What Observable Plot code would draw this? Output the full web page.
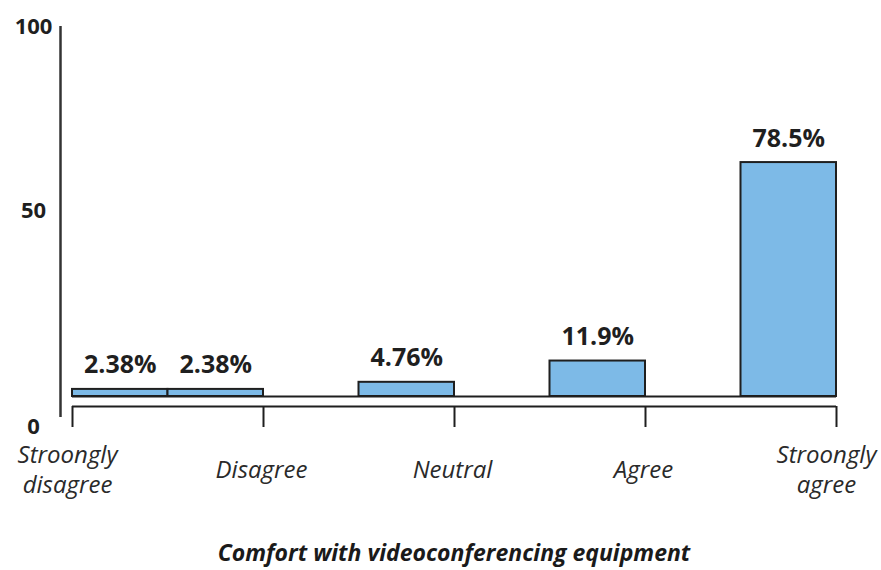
<!DOCTYPE html>
<html>
<head>
<meta charset="utf-8">
<script src="https://cdn.jsdelivr.net/npm/d3@7"></script>
<script src="https://cdn.jsdelivr.net/npm/@observablehq/plot@0.6"></script>
<style>
  html, body { margin: 0; padding: 0; background: white; }
  #wrap { position: relative; width: 881px; height: 570px; font-family: 'Open Sans', sans-serif; }
  #wrap svg { position: absolute; left: 0; top: 0; }
  #title { position: absolute; left: 72px; width: 764px; top: 535px; text-align: center; line-height: 34px;
           font-size: 23px; font-weight: bold; font-style: italic; color: #1a1a1a; white-space: nowrap; }
</style>
</head>
<body>
<div id="wrap"></div>
<script>
const categories = ["Stroongly\ndisagree", "Disagree", "Neutral", "Agree", "Stroongly\nagree"];
const values = [2.38, 2.38, 4.76, 11.9, 78.5];
const yTicks = [0, 50, 100];
const title = "Comfort with videoconferencing equipment";

const rows = categories.map((c, i) => ({
  i, cat: c, value: values[i],
  x1: i === 0 ? i : i - 0.5,
  x2: i === 0 ? i + 0.5 : i
}));
const tickIdx = categories.map((c, i) => i);
const last = categories.length - 1;

const W = 881, H = 510;
const ink = "#1f1f1f";
const catStyle = {x: "i", y: () => 0, text: "cat", dy: 72, lineAnchor: "middle", lineHeight: 1.25,
  fontSize: 24, fontStyle: "italic", fill: "#2a2a2a"};

const main = Plot.plot({
  width: W, height: H,
  marginLeft: 72, marginRight: 45, marginTop: 98, marginBottom: 114,
  x: {domain: [0, last], axis: null},
  y: {domain: [0, 100], axis: null},
  style: {fontFamily: "'Open Sans', sans-serif", background: "white", overflow: "visible"},
  marks: [
    Plot.rectY(rows, {x1: "x1", x2: "x2", y1: 0, y2: "value", fill: "#7dbae7", stroke: ink, strokeWidth: 2}),
    Plot.ruleY([0], {x1: 0, x2: last, stroke: ink, strokeWidth: 2}),
    Plot.ruleY([0], {x1: 0, x2: last, stroke: ink, strokeWidth: 2, dy: 10}),
    Plot.ruleX(tickIdx, {x: d => d, y1: 0, y2: 0, insetTop: 10, insetBottom: -31, stroke: ink, strokeWidth: 2}),
    Plot.text(rows, {x: d => (d.x1 + d.x2) / 2, y: "value", text: d => `${d.value}%`, dy: -24,
      lineAnchor: "middle", fontSize: 25, fontWeight: "bold", fill: ink}),
    Plot.text(rows, {...catStyle, filter: d => d.i === 0, dx: -5}),
    Plot.text(rows, {...catStyle, filter: d => d.i > 0 && d.i < last, dx: -2}),
    Plot.text(rows, {...catStyle, filter: d => d.i === last, dx: -10})
  ]
});

const axis = Plot.plot({
  width: W, height: H,
  marginLeft: 60, marginRight: 20, marginTop: 26, marginBottom: H - 426,
  x: {domain: [0, 1], axis: null},
  y: {type: "pow", exponent: 0.89, domain: [0, 100], axis: null},
  style: {fontFamily: "'Open Sans', sans-serif", background: "transparent", pointerEvents: "none"},
  marks: [
    Plot.ruleX([0], {y1: 0, y2: 100, insetTop: -9, stroke: "#333", strokeWidth: 2.5}),
    Plot.axisY({ticks: yTicks, tickSize: 0, tickPadding: 27, textAnchor: "middle",
      fontSize: 22, fontWeight: "bold", color: ink, tickFormat: d => String(d)})
  ]
});

const wrap = document.getElementById("wrap");
wrap.appendChild(main);
wrap.appendChild(axis);
const t = document.createElement("div");
t.id = "title";
t.textContent = title;
wrap.appendChild(t);
</script>
</body>
</html>
